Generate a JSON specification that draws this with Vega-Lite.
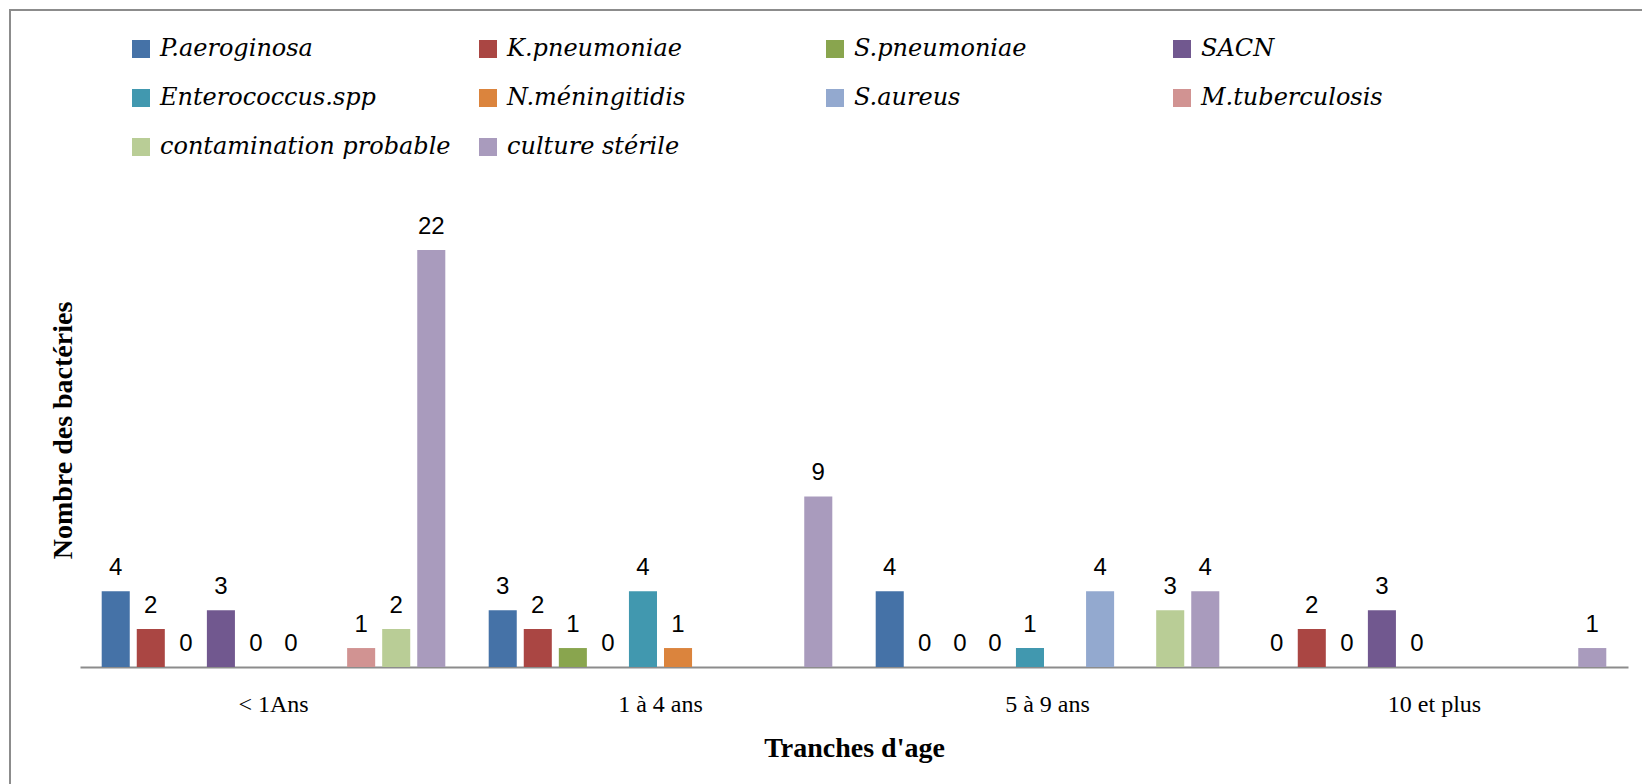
{
  "$schema": "https://vega.github.io/schema/vega-lite/v6.json",
  "autosize": {"type": "none"},
  "padding": {"left": 10, "top": 10, "right": -8, "bottom": -6},
  "width": 1640,
  "height": 780,
  "background": "white",
  "config": {
    "view": {"stroke": "#8c8c8c", "strokeWidth": 2}
  },
  "data": {"values": [
    {"age": "< 1Ans", "bact": "P.aeroginosa", "n": 4},
    {"age": "< 1Ans", "bact": "K.pneumoniae", "n": 2},
    {"age": "< 1Ans", "bact": "S.pneumoniae", "n": 0},
    {"age": "< 1Ans", "bact": "SACN", "n": 3},
    {"age": "< 1Ans", "bact": "Enterococcus.spp", "n": 0},
    {"age": "< 1Ans", "bact": "N.méningitidis", "n": 0},
    {"age": "< 1Ans", "bact": "M.tuberculosis", "n": 1},
    {"age": "< 1Ans", "bact": "contamination probable", "n": 2},
    {"age": "< 1Ans", "bact": "culture stérile", "n": 22},
    {"age": "1 à 4 ans", "bact": "P.aeroginosa", "n": 3},
    {"age": "1 à 4 ans", "bact": "K.pneumoniae", "n": 2},
    {"age": "1 à 4 ans", "bact": "S.pneumoniae", "n": 1},
    {"age": "1 à 4 ans", "bact": "SACN", "n": 0},
    {"age": "1 à 4 ans", "bact": "Enterococcus.spp", "n": 4},
    {"age": "1 à 4 ans", "bact": "N.méningitidis", "n": 1},
    {"age": "1 à 4 ans", "bact": "culture stérile", "n": 9},
    {"age": "5 à 9 ans", "bact": "P.aeroginosa", "n": 4},
    {"age": "5 à 9 ans", "bact": "K.pneumoniae", "n": 0},
    {"age": "5 à 9 ans", "bact": "S.pneumoniae", "n": 0},
    {"age": "5 à 9 ans", "bact": "SACN", "n": 0},
    {"age": "5 à 9 ans", "bact": "Enterococcus.spp", "n": 1},
    {"age": "5 à 9 ans", "bact": "S.aureus", "n": 4},
    {"age": "5 à 9 ans", "bact": "contamination probable", "n": 3},
    {"age": "5 à 9 ans", "bact": "culture stérile", "n": 4},
    {"age": "10 et plus", "bact": "P.aeroginosa", "n": 0},
    {"age": "10 et plus", "bact": "K.pneumoniae", "n": 2},
    {"age": "10 et plus", "bact": "S.pneumoniae", "n": 0},
    {"age": "10 et plus", "bact": "SACN", "n": 3},
    {"age": "10 et plus", "bact": "Enterococcus.spp", "n": 0},
    {"age": "10 et plus", "bact": "culture stérile", "n": 1}
  ]},
  "encoding": {
    "x": {
      "field": "age", "type": "nominal",
      "scale": {"domain": ["< 1Ans", "1 à 4 ans", "5 à 9 ans", "10 et plus"], "range": [70, 1618], "paddingInner": 0, "paddingOuter": 0},
      "axis": {
        "title": "Tranches d'age", "offset": -123, "domainColor": "#8c8c8c", "domainWidth": 2,
        "ticks": false, "tickSize": 0, "labelPadding": 44, "labelBaseline": "alphabetic", "labelAngle": 0,
        "labelFont": "Liberation Serif", "labelFontSize": 24, "labelColor": "black", "grid": false,
        "titleFont": "Liberation Serif", "titleFontSize": 28, "titleFontWeight": "bold", "titleColor": "black",
        "titleX": 844, "titleY": 89, "titleBaseline": "alphabetic", "titleAlign": "center"
      }
    },
    "xOffset": {
      "field": "bact", "type": "nominal",
      "scale": {"domain": ["P.aeroginosa", "K.pneumoniae", "S.pneumoniae", "SACN", "Enterococcus.spp", "N.méningitidis", "S.aureus", "M.tuberculosis", "contamination probable", "culture stérile"], "paddingInner": 0.2, "paddingOuter": 0.619}
    },
    "y": {
      "field": "n", "type": "quantitative",
      "scale": {"domain": [0, 22], "range": [657, 240], "nice": false, "zero": true},
      "axis": {
        "title": "Nombre des bactéries", "labels": false, "ticks": false, "domain": false, "grid": false,
        "titleFont": "Liberation Serif", "titleFontSize": 28, "titleFontWeight": "bold", "titleColor": "black",
        "titleAngle": 270, "titleX": 61, "titleY": 420, "titleBaseline": "alphabetic", "titleAlign": "center"
      }
    }
  },
  "layer": [
    {
      "mark": {"type": "bar"},
      "encoding": {
        "color": {
          "field": "bact", "type": "nominal",
          "scale": {
            "domain": ["P.aeroginosa", "K.pneumoniae", "S.pneumoniae", "SACN", "Enterococcus.spp", "N.méningitidis", "S.aureus", "M.tuberculosis", "contamination probable", "culture stérile"],
            "range": ["#4572A7", "#AA4643", "#89A54E", "#71588F", "#4198AF", "#DB843D", "#93A9CF", "#D19392", "#B9CD96", "#A99BBD"]
          },
          "legend": {
            "orient": "none", "legendX": 119, "legendY": 27, "direction": "horizontal", "columns": 4,
            "gridAlign": "all", "columnPadding": 25, "rowPadding": 25, "symbolType": "square", "symbolSize": 324,
            "symbolStrokeWidth": 0, "symbolOpacity": 1, "labelFont": "DejaVu Serif", "labelFontStyle": "italic",
            "labelFontSize": 24, "labelColor": "black", "labelOffset": 7, "title": null, "labelLimit": 400, "padding": 0
          }
        }
      }
    },
    {
      "mark": {"type": "text", "dy": -16, "baseline": "alphabetic", "font": "Liberation Sans", "fontSize": 24, "color": "black"},
      "encoding": {"text": {"field": "n", "type": "quantitative"}}
    }
  ]
}
